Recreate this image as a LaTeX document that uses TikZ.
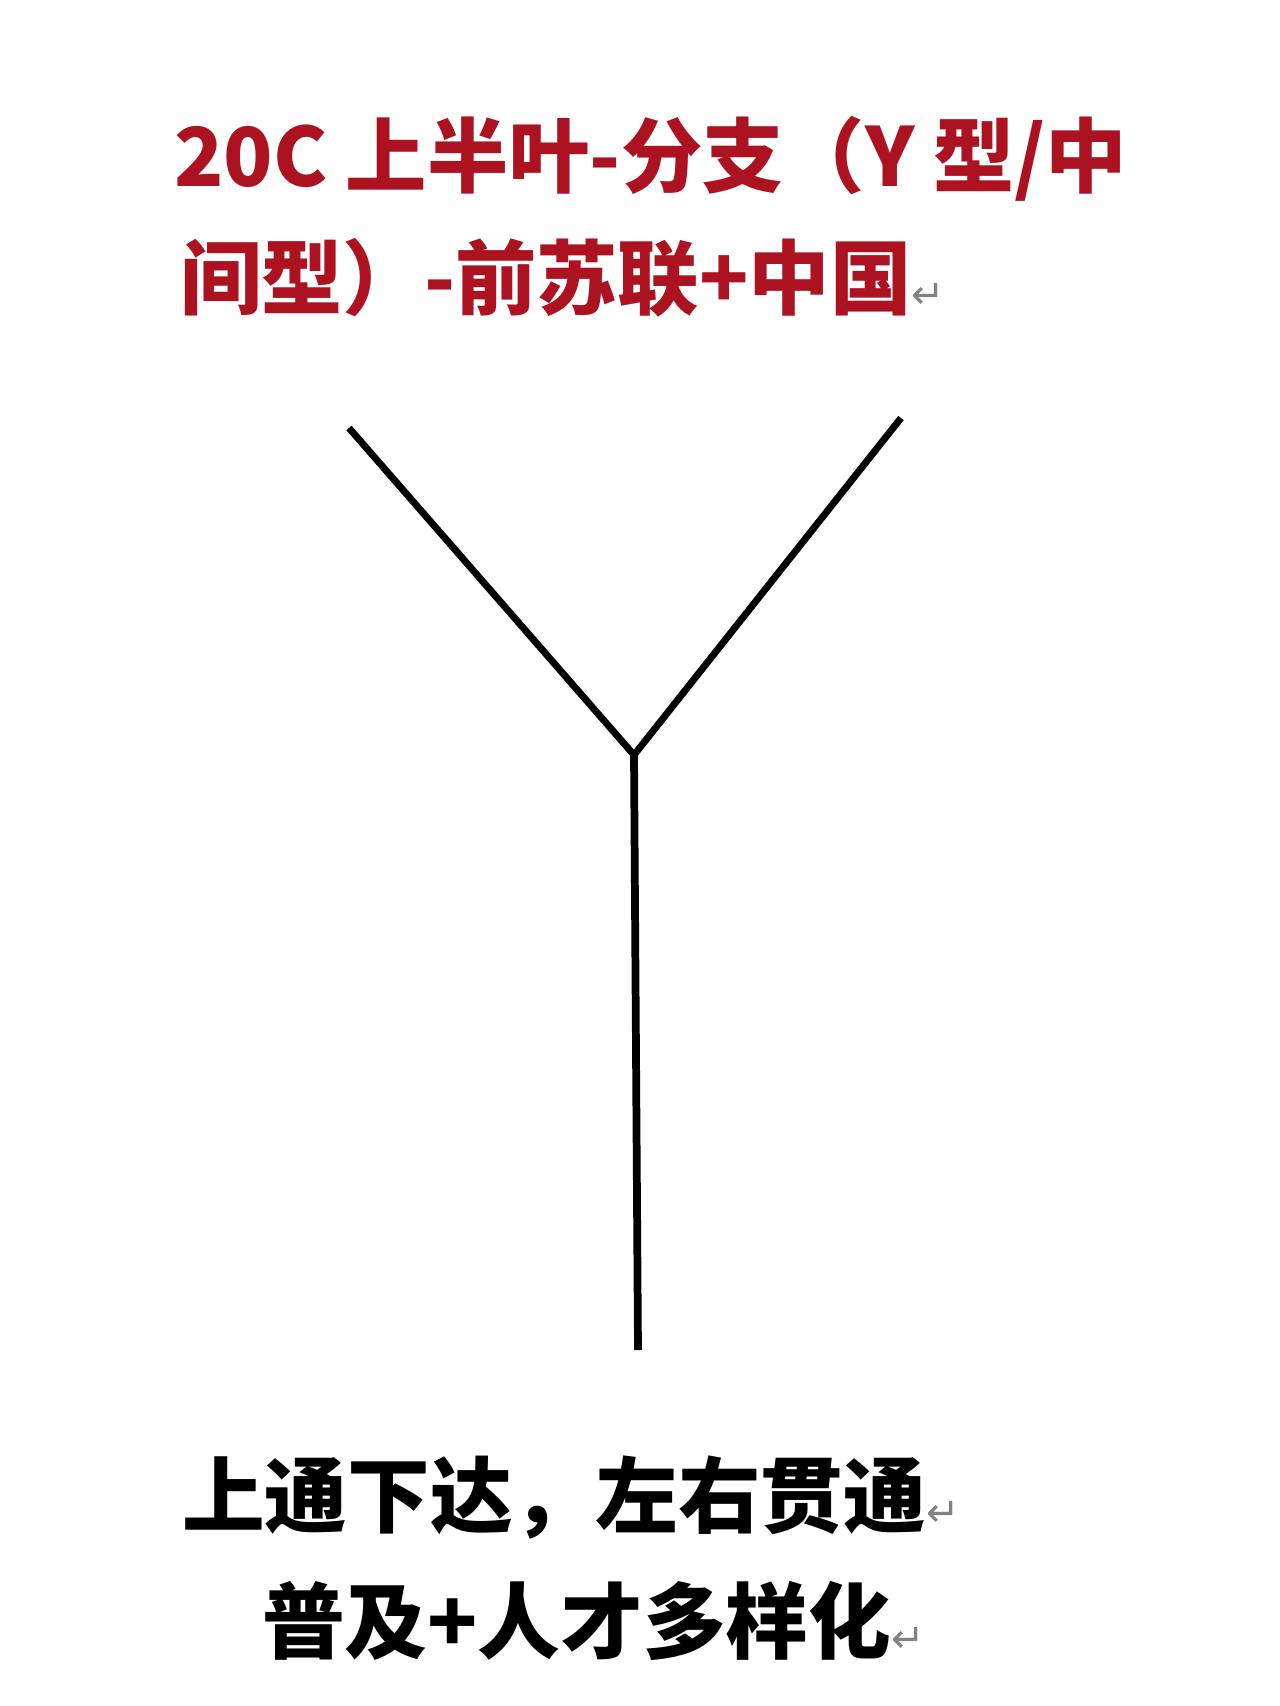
\documentclass[tikz,border=0pt]{standalone}
\usepackage{fontspec}
\newfontfamily\cjk{Noto Sans CJK SC}
\newfontfamily\symfont{DejaVu Sans}
\definecolor{titlered}{RGB}{172,18,32}
\definecolor{retgray}{RGB}{130,130,130}
\tikzset{
  titletext/.style={anchor=base west, inner sep=0pt, outer sep=0pt, text=titlered, font=\cjk\bfseries\fontsize{61pt}{61pt}\selectfont},
  bodytext/.style={anchor=base west, inner sep=0pt, outer sep=0pt, text=black, font=\cjk\bfseries\fontsize{62pt}{62pt}\selectfont},
  branch/.style={draw=black, line width=5.2pt},
  stem/.style={draw=black, line width=5.8pt},
}
\newcommand{\retmark}{{\color{retgray}\symfont\mdseries\fontsize{30pt}{30pt}\selectfont ↵}}
\begin{document}
\begin{tikzpicture}[x=0.75pt,y=-0.75pt]
\useasboundingbox (0,0) rectangle (1280,1706);
\fill[white] (0,0) rectangle (1280,1706);
% title
\node[titletext] (t1) at (174,186) {20C 上半叶-分支（Y 型/中};
\node[titletext] (t2) at (180,308) {间型）-前苏联+中国\retmark};
% Y shape
\coordinate (lt) at (349,428);
\coordinate (rt) at (901,418);
\coordinate (jn) at (634,755);
\coordinate (bt) at (638,1350);
\draw[branch] (lt) -- (jn);
\draw[branch] (rt) -- (jn);
\draw[stem] (jn) -- (bt);
% bottom text
\node[bodytext] (b1) at (182,1526) {上通下达，左右贯通\retmark};
\node[bodytext] (b2) at (262,1652) {普及+人才多样化\retmark};
\end{tikzpicture}
\end{document}
